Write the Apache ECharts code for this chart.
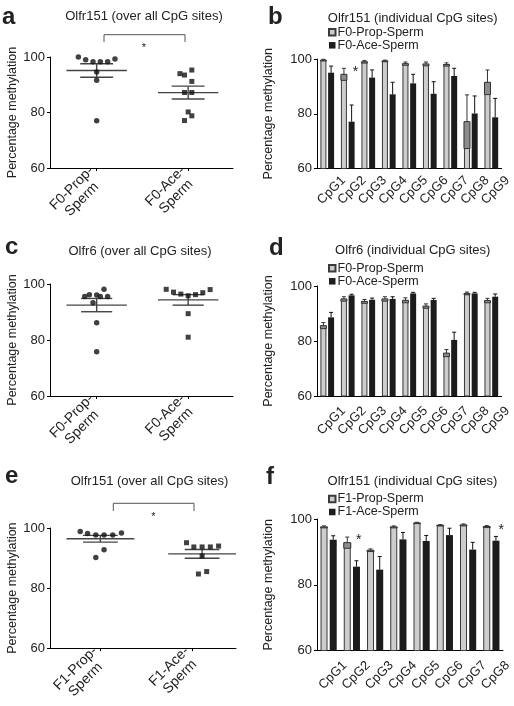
<!DOCTYPE html>
<html><head><meta charset="utf-8">
<script src="https://cdn.jsdelivr.net/npm/echarts@6/dist/echarts.min.js"></script>
<style>html,body{margin:0;padding:0;background:#fff}#c{width:514px;height:706px}</style>
</head><body><div id="c"></div>
<script>
// ---------- DATA ----------
const scatterLabelsF0 = ['F0-Prop-\nSperm  ', 'F0-Ace-\nSperm '];
const scatterLabelsF1 = ['F1-Prop-\nSperm  ', 'F1-Ace-\nSperm '];

// panel a: Olfr151 (over all CpG sites), F0
const aPropVals = [100, 99.0, 98.3, 98.3, 98.3, 99.3, 94.6, 91.6, 77.0];
const aPropJit  = [-0.20, -0.12, -0.04, 0.04, 0.12, 0.20, 0, 0, 0];
const aAceVals  = [94.0, 93.5, 95.3, 91.2, 87.2, 87.2, 80.2, 78.8, 77.1];
const aAceJit   = [-0.09, -0.04, 0.04, 0.04, -0.04, 0.04, 0, 0.04, -0.04];

// panel c: Olfr6 (over all CpG sites), F0
const cPropVals = [95.5, 96.2, 96.1, 95.5, 98.1, 95.5, 93.3, 86.2, 75.8];
const cPropJit  = [-0.13, -0.08, 0, 0.04, 0.08, 0.12, -0.04, 0, 0];
const cAceVals  = [98.1, 97.1, 96.4, 95.8, 96.2, 96.9, 98.0, 89.4, 81.0];
const cAceJit   = [-0.24, -0.16, -0.08, 0, 0.08, 0.16, 0.24, 0, 0];

// panel e: Olfr151 (over all CpG sites), F1
const ePropVals = [98.8, 98.2, 97.7, 97.7, 97.7, 98.3, 92.8, 90.2];
const ePropJit  = [-0.22, -0.14, -0.05, 0.04, 0.135, 0.23, 0.04, -0.05];
const eAceVals  = [95.1, 93.7, 93.7, 93.7, 94.0, 90.7, 84.7, 85.5];
const eAceJit   = [-0.17, -0.09, 0, 0.09, 0.18, 0, -0.04, 0.05];

// panel b: Olfr151 individual CpG sites, F0
const bCats     = ['CpG1','CpG2','CpG3','CpG4','CpG5','CpG6','CpG7','CpG8','CpG9'];
const bProp     = [99.6, 94.4, 99.0, 99.3, 98.3, 98.2, 98.0, 77.1, 91.5];
const bPropErr  = [0.3, 2.2, 0.5, 0.3, 0.6, 0.7, 0.6, 9.8, 4.5];
const bAce      = [95.0, 77.1, 93.2, 87.1, 91.1, 87.3, 93.8, 80.1, 78.7];
const bAceErr   = [2.4, 6.1, 2.8, 4.4, 3.3, 4.4, 2.8, 6.4, 6.9];

// panel d: Olfr6 individual CpG sites, F0
const dCats     = ['CpG1','CpG2','CpG3','CpG4','CpG5','CpG6','CpG7','CpG8','CpG9'];
const dProp     = [85.6, 95.3, 94.4, 95.3, 94.8, 92.7, 75.6, 97.3, 94.7];
const dPropErr  = [1.1, 0.8, 0.7, 0.8, 0.9, 0.8, 1.3, 0.5, 0.8];
const dAce      = [88.6, 96.6, 95.0, 95.3, 97.3, 94.9, 80.4, 97.3, 96.1];
const dAceErr   = [1.8, 0.4, 0.6, 0.8, 0.4, 0.6, 2.8, 0.4, 1.0];

// panel f: Olfr151 individual CpG sites, F1
const fCats     = ['CpG1','CpG2','CpG3','CpG4','CpG5','CpG6','CpG7','CpG8'];
const fProp     = [97.6, 92.8, 90.5, 97.6, 98.8, 98.1, 98.2, 97.7];
const fPropErr  = [0.3, 1.7, 0.4, 0.3, 0.2, 0.2, 0.3, 0.3];
const fAce      = [93.7, 85.5, 84.6, 93.8, 93.3, 95.1, 90.7, 93.4];
const fAceErr   = [1.2, 1.8, 4.0, 2.1, 1.7, 2.1, 2.2, 1.3];

const yTicks = [60, 80, 100];

// ---------- CHART ----------
const FONT = '"Liberation Sans", Arial, sans-serif';
const TXT = '#222';

function stats(v) {
  const n = v.length, m = v.reduce((a, b) => a + b, 0) / n;
  const sd = Math.sqrt(v.reduce((a, b) => a + (b - m) * (b - m), 0) / (n - 1));
  return [m, sd / Math.sqrt(n)];
}

const grids = [
  {left: 50, top: 57, width: 183, height: 111},     // a
  {left: 317, top: 59, width: 190, height: 109.5},  // b
  {left: 50, top: 284, width: 183, height: 112},    // c
  {left: 317, top: 286, width: 190, height: 110},   // d
  {left: 50, top: 528, width: 186, height: 123},    // e
  {left: 317, top: 519, width: 191, height: 131.5}  // f
];

const xAxes = [], yAxes = [], series = [];

function yAxis(gi, gap) {
  return {
    type: 'value', gridIndex: gi, min: yTicks[0], max: yTicks[yTicks.length - 1], interval: 20,
    name: 'Percentage methylation', nameLocation: 'middle', nameGap: gap,
    nameTextStyle: {fontSize: 12.5, color: TXT, fontFamily: FONT},
    axisLine: {show: true, onZero: false, lineStyle: {color: '#000', width: 1}},
    axisTick: {show: true, length: 3, lineStyle: {color: '#000'}},
    splitLine: {show: false},
    axisLabel: {margin: 5, fontSize: 13, color: TXT, fontFamily: FONT}
  };
}

function scatterPanel(gi, labels, min, max, groups, meanHalf, semHalf) {
  xAxes.push({
    type: 'value', gridIndex: gi, min: min, max: max,
    splitLine: {show: false},
    axisLine: {show: true, onZero: false, lineStyle: {color: '#000', width: 1}},
    axisTick: {show: true, length: 3, customValues: [0, 1], lineStyle: {color: '#000'}},
    axisLabel: {customValues: [0, 1], formatter: v => labels[Math.round(v)], rotate: 45,
      fontSize: 14, lineHeight: 15, color: TXT, fontFamily: FONT, margin: 6}
  });
  yAxes.push(yAxis(gi, 31));
  groups.forEach(g => {
    const st = stats(g.vals);
    series.push({
      type: 'custom', xAxisIndex: gi, yAxisIndex: gi, z: 2, silent: true,
      encode: {x: 0, y: 1},
      data: [[g.center, st[0], st[1]]],
      renderItem: function (params, api) {
        const cx = api.value(0), m = api.value(1), s = api.value(2);
        const p = api.coord([cx, m]), t = api.coord([cx, m + s]), b = api.coord([cx, m - s]);
        const hm = api.size([meanHalf, 0])[0], hs = api.size([semHalf, 0])[0];
        const st = {stroke: '#444', lineWidth: 1.4};
        return {type: 'group', children: [
          {type: 'line', shape: {x1: p[0] - hm, y1: p[1], x2: p[0] + hm, y2: p[1]}, style: st},
          {type: 'line', shape: {x1: p[0] - hs, y1: t[1], x2: p[0] + hs, y2: t[1]}, style: st},
          {type: 'line', shape: {x1: p[0] - hs, y1: b[1], x2: p[0] + hs, y2: b[1]}, style: st},
          {type: 'line', shape: {x1: p[0], y1: t[1], x2: p[0], y2: b[1]}, style: st}
        ]};
      }
    });
    series.push({
      type: 'scatter', xAxisIndex: gi, yAxisIndex: gi, z: 3, silent: true,
      symbol: g.symbol, symbolSize: g.symbol === 'circle' ? 5.5 : 5,
      itemStyle: {color: '#111'},
      data: g.vals.map((v, i) => [g.center + g.jit[i], v])
    });
  });
}

function errRender(side, barW, gap, isGray) {
  return function (params, api) {
    const i = api.value(0), m = api.value(1), e = api.value(2);
    const p = api.coord([i, m]), t = api.coord([i, m + e]), b = api.coord([i, m - e]);
    const x = p[0] + side * (barW + gap) / 2;
    const col = isGray ? '#333' : '#111';
    const ch = [
      {type: 'line', shape: {x1: x, y1: p[1], x2: x, y2: t[1]}, style: {stroke: col, lineWidth: 1}},
      {type: 'line', shape: {x1: x - 2, y1: t[1], x2: x + 2, y2: t[1]}, style: {stroke: col, lineWidth: 1}}
    ];
    if (isGray) ch.unshift({type: 'rect', shape: {x: x - barW / 2, y: p[1], width: barW, height: b[1] - p[1]},
      style: {fill: '#8c8c8c', stroke: '#333', lineWidth: 1}});
    return {type: 'group', children: ch};
  };
}

function barPanel(gi, cats, names, prop, propErr, ace, aceErr, barW, gap, labelMargin) {
  xAxes.push({
    type: 'category', gridIndex: gi, data: cats,
    axisLine: {lineStyle: {color: '#000', width: 1}},
    axisTick: {alignWithLabel: true, length: 3, lineStyle: {color: '#000'}},
    axisLabel: {rotate: 45, interval: 0, fontSize: 13, color: TXT, fontFamily: FONT,
      margin: labelMargin, align: 'center', verticalAlign: 'middle', padding: [0, 0, 0, 12]}
  });
  yAxes.push(yAxis(gi, 42));
  const barGap = (gap / barW * 100) + '%';
  series.push({
    name: names[0], type: 'bar', xAxisIndex: gi, yAxisIndex: gi, barWidth: barW, barGap: barGap,
    itemStyle: {color: '#cdcdcd', borderColor: '#3a3a3a', borderWidth: 1}, data: prop, silent: true
  });
  series.push({
    name: names[1], type: 'bar', xAxisIndex: gi, yAxisIndex: gi, barWidth: barW, barGap: barGap,
    itemStyle: {color: '#1c1c1c'}, data: ace, silent: true
  });
  series.push({type: 'custom', xAxisIndex: gi, yAxisIndex: gi, z: 3, silent: true, encode: {x: 0, y: 1},
    data: prop.map((v, i) => [i, v, propErr[i]]), renderItem: errRender(-1, barW, gap, true)});
  series.push({type: 'custom', xAxisIndex: gi, yAxisIndex: gi, z: 3, silent: true, encode: {x: 0, y: 1},
    data: ace.map((v, i) => [i, v, aceErr[i]]), renderItem: errRender(1, barW, gap, false)});
}

scatterPanel(0, scatterLabelsF0, -0.51, 1.49, [
  {vals: aPropVals, jit: aPropJit, center: 0, symbol: 'circle'},
  {vals: aAceVals, jit: aAceJit, center: 1, symbol: 'rect'}], 0.33, 0.18);
barPanel(1, bCats, ['F0-Prop-Sperm', 'F0-Ace-Sperm'], bProp, bPropErr, bAce, bAceErr, 6, 1.7, 26);
scatterPanel(2, scatterLabelsF0, -0.51, 1.49, [
  {vals: cPropVals, jit: cPropJit, center: 0, symbol: 'circle'},
  {vals: cAceVals, jit: cAceJit, center: 1, symbol: 'rect'}], 0.33, 0.17);
barPanel(3, dCats, ['F0-Prop-Sperm', 'F0-Ace-Sperm'], dProp, dPropErr, dAce, dAceErr, 6, 1.7, 29);
scatterPanel(4, scatterLabelsF1, -0.55, 1.48, [
  {vals: ePropVals, jit: ePropJit, center: 0, symbol: 'circle'},
  {vals: eAceVals, jit: eAceJit, center: 1.11, symbol: 'rect'}], 0.37, 0.19);
barPanel(5, fCats, ['F1-Prop-Sperm', 'F1-Ace-Sperm'], fProp, fPropErr, fAce, fAceErr, 7, 2.2, 29);

function legend(top, names) {
  return {
    orient: 'vertical', left: 328, top: top, padding: 0, itemWidth: 6.5, itemHeight: 6.5, itemGap: 0,
    icon: 'rect', selectedMode: false, data: names,
    textStyle: {fontSize: 12.5, color: TXT, fontFamily: FONT, lineHeight: 13, padding: [0, 0, 0, -3]}
  };
}

function txt(x, y, s, size, bold, align) {
  return {type: 'text', x: x, y: y, silent: true, style: {
    text: s, fill: TXT, font: (bold ? 'bold ' : '') + size + 'px ' + FONT,
    textAlign: align || 'center', textVerticalAlign: 'middle', align: align || 'center', verticalAlign: 'middle'}};
}
function bracket(x1, x2, yTop, yBot) {
  return {type: 'polyline', silent: true, shape: {points: [[x1, yBot], [x1, yTop], [x2, yTop], [x2, yBot]]},
    style: {stroke: '#555', lineWidth: 1, fill: null}};
}

const graphic = [
  txt(2, 17, 'a', 24, true, 'left'), txt(268, 17, 'b', 24, true, 'left'),
  txt(5, 247, 'c', 24, true, 'left'), txt(269, 248, 'd', 24, true, 'left'),
  txt(5, 476, 'e', 24, true, 'left'), txt(266, 477, 'f', 24, true, 'left'),
  txt(144, 16.7, 'Olfr151 (over all CpG sites)', 13),
  txt(412.7, 18.3, 'Olfr151 (individual CpG sites)', 13),
  txt(140, 251.7, 'Olfr6 (over all CpG sites)', 13),
  txt(412.7, 250.7, 'Olfr6 (individual CpG sites)', 13),
  txt(149.5, 481.7, 'Olfr151 (over all CpG sites)', 13),
  txt(412.5, 481.7, 'Olfr151 (individual CpG sites)', 13),
  bracket(104, 185, 34.7, 42), txt(144, 48, '*', 11),
  bracket(113.3, 194, 503.3, 511), txt(153.3, 517, '*', 11),
  txt(355.5, 72.5, '*', 14), txt(358.7, 540, '*', 14), txt(501.3, 530, '*', 14)
];

const chart = echarts.init(document.getElementById('c'), null, {renderer: 'canvas'});
chart.setOption({
  backgroundColor: '#fff', animation: false,
  textStyle: {fontFamily: FONT},
  grid: grids, xAxis: xAxes, yAxis: yAxes, series: series,
  legend: [legend(25.8, ['F0-Prop-Sperm', 'F0-Ace-Sperm']),
           legend(261.8, ['F0-Prop-Sperm', 'F0-Ace-Sperm']),
           legend(492.5, ['F1-Prop-Sperm', 'F1-Ace-Sperm'])],
  graphic: graphic
});
</script></body></html>
